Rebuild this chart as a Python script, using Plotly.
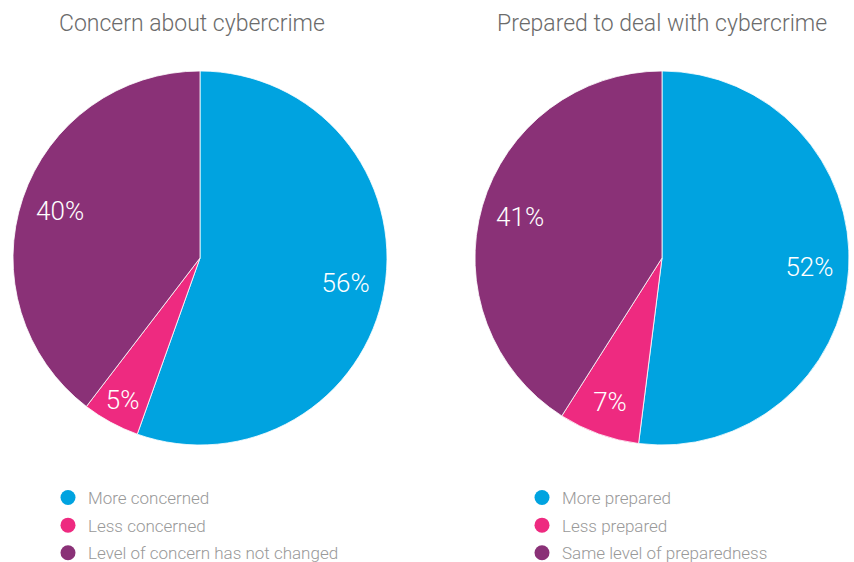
import plotly.graph_objects as go

# Survey results
concern_labels = ["More concerned", "Less concerned", "Level of concern has not changed"]
concern_values = [56, 5, 40]

prepared_labels = ["More prepared", "Less prepared", "Same level of preparedness"]
prepared_values = [52, 7, 41]

titles = ["Concern about cybercrime", "Prepared to deal with cybercrime"]
colors = ["#00A3E0", "#EE2A80", "#8A3177"]

FONT = "Roboto"
W, H = 854, 562

fig = go.Figure()

pie_domains = [
    dict(x=[13 / W, 387 / W], y=[117 / H, 491 / H]),
    dict(x=[475 / W, 849 / W], y=[117 / H, 491 / H]),
]

for labels, values, dom in [
    (concern_labels, concern_values, pie_domains[0]),
    (prepared_labels, prepared_values, pie_domains[1]),
]:
    # filled slices
    fig.add_trace(go.Pie(
        labels=labels,
        values=values,
        domain=dom,
        sort=False,
        direction="clockwise",
        rotation=0,
        marker=dict(colors=colors, line=dict(color="white", width=0.8)),
        textinfo="none",
        hoverinfo="label+value",
        showlegend=False,
    ))
    # transparent ring on top that carries the percentage labels near the rim
    fig.add_trace(go.Pie(
        labels=labels,
        values=values,
        domain=dom,
        hole=0.58,
        sort=False,
        direction="clockwise",
        rotation=0,
        marker=dict(colors=["rgba(0,0,0,0)"] * len(values),
                    line=dict(color="rgba(0,0,0,0)", width=0)),
        texttemplate="%{value}%",
        textposition="inside",
        insidetextorientation="horizontal",
        textfont=dict(family=FONT, size=26, color="white", weight=300),
        hoverinfo="skip",
        showlegend=False,
    ))

# Circle-marker legend entries, one legend per pie
for legend_name, labels in [("legend", concern_labels), ("legend2", prepared_labels)]:
    for i, (lab, col) in enumerate(zip(labels, colors)):
        fig.add_trace(go.Scatter(
            x=[None], y=[None], mode="markers", name=lab,
            marker=dict(symbol="circle", size=15, color=col),
            legend=legend_name, legendgroup=f"{legend_name}_{i}",
            showlegend=True, hoverinfo="skip",
        ))

legend_common = dict(
    orientation="v",
    yanchor="top",
    xanchor="left",
    font=dict(family=FONT, size=17, color="#999999", weight=300),
    bgcolor="rgba(0,0,0,0)",
    tracegroupgap=2.5,
    itemclick=False,
    itemdoubleclick=False,
)

title_font = dict(family=FONT, size=23, color="#6b6b6b", weight=300)

fig.update_layout(
    width=W,
    height=H,
    margin=dict(l=0, r=0, t=0, b=0, autoexpand=False),
    paper_bgcolor="white",
    plot_bgcolor="white",
    xaxis=dict(visible=False),
    yaxis=dict(visible=False),
    legend=dict(x=48 / W, y=1 - 480 / H, **legend_common),
    legend2=dict(x=522 / W, y=1 - 480 / H, **legend_common),
    annotations=[
        dict(text=titles[0], x=192 / W, y=1 - 23 / H, xref="paper", yref="paper",
             xanchor="center", yanchor="middle", showarrow=False, font=title_font),
        dict(text=titles[1], x=662 / W, y=1 - 23 / H, xref="paper", yref="paper",
             xanchor="center", yanchor="middle", showarrow=False, font=title_font),
    ],
)

fig.write_html("out.html")
